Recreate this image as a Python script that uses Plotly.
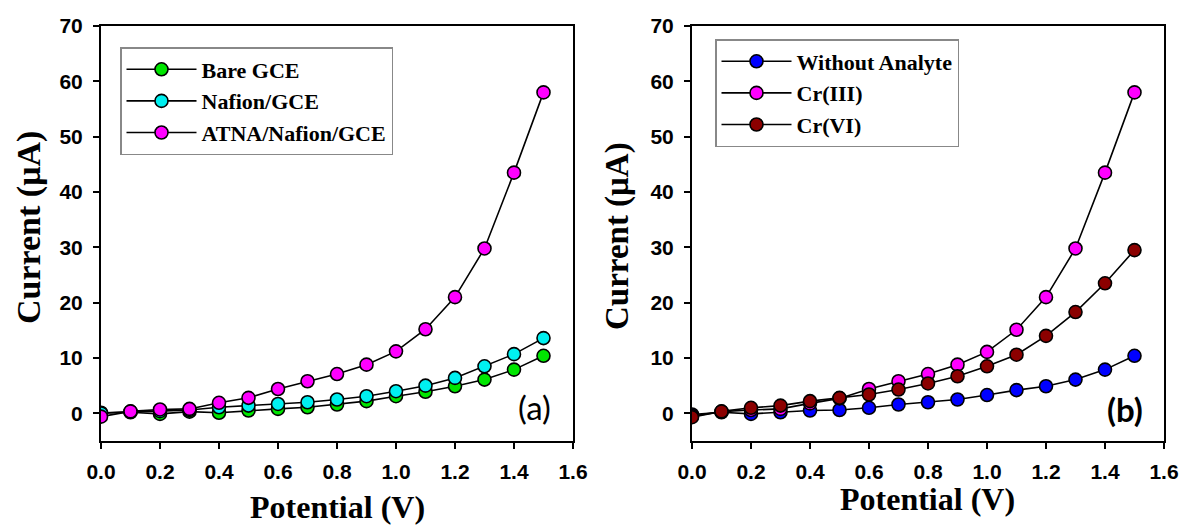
import plotly.graph_objects as go

potential = [0.0, 0.1, 0.2, 0.3, 0.4, 0.5, 0.6, 0.7, 0.8, 0.9, 1.0, 1.1, 1.2, 1.3, 1.4, 1.5]

# panel (a)
bare_gce = [0.1, 0.2, -0.1, 0.3, 0.1, 0.5, 0.8, 1.1, 1.6, 2.2, 3.1, 3.9, 4.9, 6.1, 7.9, 10.4]
nafion_gce = [0.0, 0.3, 0.4, 0.6, 1.1, 1.4, 1.7, 2.0, 2.5, 3.1, 4.0, 5.0, 6.4, 8.5, 10.7, 13.6]
atna_nafion_gce = [-0.6, 0.35, 0.7, 0.8, 1.9, 2.8, 4.4, 5.8, 7.1, 8.8, 11.2, 15.2, 21.0, 29.8, 43.5, 58.0]

# panel (b)
without_analyte = [-0.2, 0.2, -0.1, 0.2, 0.5, 0.6, 1.0, 1.6, 2.0, 2.5, 3.3, 4.2, 4.9, 6.1, 7.9, 10.4]
cr_iii = [-0.5, 0.3, 0.6, 0.8, 1.8, 2.7, 4.4, 5.8, 7.1, 8.8, 11.1, 15.1, 21.0, 29.8, 43.5, 58.0]
cr_vi = [-0.7, 0.35, 1.0, 1.4, 2.2, 2.8, 3.4, 4.3, 5.4, 6.7, 8.5, 10.6, 14.0, 18.3, 23.5, 29.5]

x_ticks = [0.0, 0.2, 0.4, 0.6, 0.8, 1.0, 1.2, 1.4, 1.6]
x_tick_text = ["0.0", "0.2", "0.4", "0.6", "0.8", "1.0", "1.2", "1.4", "1.6"]
y_ticks = [0, 10, 20, 30, 40, 50, 60, 70]

W, H = 1182, 525
SERIF = "Liberation Serif, Times New Roman, serif"
SANS = "Liberation Sans, Arial, sans-serif"

fig = go.Figure()

def add(xs, ys, name, color, xa, ya, legend):
    fig.add_trace(go.Scatter(
        x=xs, y=ys, name=name, mode="lines+markers",
        line=dict(color="black", width=1.6),
        marker=dict(size=13, color=color, line=dict(color="black", width=1.6)),
        xaxis=xa, yaxis=ya, legend=legend,
    ))

add(potential, bare_gce, "Bare GCE", "#00e600", "x", "y", "legend")
add(potential, nafion_gce, "Nafion/GCE", "#00f0f0", "x", "y", "legend")
add(potential, atna_nafion_gce, "ATNA/Nafion/GCE", "#ff00ff", "x", "y", "legend")

add(potential, without_analyte, "Without Analyte", "#0000ff", "x2", "y2", "legend2")
add(potential, cr_iii, "Cr(III)", "#ff00ff", "x2", "y2", "legend2")
add(potential, cr_vi, "Cr(VI)", "#8b0000", "x2", "y2", "legend2")

def xaxis(domain, anchor):
    return dict(domain=domain, anchor=anchor, range=[0, 1.6], tickvals=x_ticks, ticktext=x_tick_text,
                showline=True, linecolor="black", linewidth=2, mirror=True,
                ticks="outside", ticklen=6, tickwidth=1.5, tickcolor="black",
                showgrid=False, zeroline=False, ticklabelstandoff=5, automargin=False,
                tickfont=dict(family=SANS, size=21, color="black", weight="bold"))

def yaxis(domain, anchor):
    return dict(domain=domain, anchor=anchor, range=[-5, 70], tickvals=y_ticks,
                showline=True, linecolor="black", linewidth=2, mirror=True,
                ticks="outside", ticklen=6, tickwidth=1.5, tickcolor="black",
                showgrid=False, zeroline=False, ticklabelstandoff=6, automargin=False,
                tickfont=dict(family=SANS, size=21, color="black", weight="bold"))

ydom = [1 - 441 / H, 1 - 26 / H]
legend_font = dict(family=SERIF, size=22, color="black", weight="bold")

fig.update_layout(
    width=W, height=H,
    margin=dict(l=0, r=0, t=0, b=0, autoexpand=False),
    paper_bgcolor="white", plot_bgcolor="white",
    xaxis=xaxis([101 / W, 573 / W], "y"),
    yaxis=yaxis(ydom, "x"),
    xaxis2=xaxis([692 / W, 1164 / W], "y2"),
    yaxis2=yaxis(ydom, "x2"),
    legend=dict(x=120 / W, y=1 - 47 / H, xanchor="left", yanchor="top",
                bgcolor="white", bordercolor="#888888", borderwidth=1.5,
                font=legend_font, tracegroupgap=0, itemwidth=70),
    legend2=dict(x=715 / W, y=1 - 39 / H, xanchor="left", yanchor="top",
                 bgcolor="white", bordercolor="#888888", borderwidth=1.5,
                 font=legend_font, tracegroupgap=0, itemwidth=70),
    showlegend=True,
)

annotations = [
    dict(text="Current (μA)", x=29 / W, y=1 - 228 / H, textangle=-90,
         font=dict(family=SERIF, size=34, color="black", weight="bold")),
    dict(text="Current (μA)", x=617 / W, y=1 - 236 / H, textangle=-90,
         font=dict(family=SERIF, size=33, color="black", weight="bold")),
    dict(text="Potential (V)", x=337 / W, y=1 - 507 / H,
         font=dict(family=SERIF, size=32, color="black", weight="bold")),
    dict(text="Potential (V)", x=928 / W, y=1 - 499 / H,
         font=dict(family=SERIF, size=32, color="black", weight="bold")),
    dict(text="(a)", x=534 / W, y=1 - 407 / H,
         font=dict(family="Lato, Open Sans, sans-serif", size=33, color="black")),
    dict(text="(b)", x=1125 / W, y=1 - 409 / H,
         font=dict(family="Lato, Open Sans, sans-serif", size=33, color="black", weight="bold")),
]
for a in annotations:
    a.update(xref="paper", yref="paper", showarrow=False, xanchor="center", yanchor="middle")
fig.update_layout(annotations=annotations)

fig.write_html("out.html")
